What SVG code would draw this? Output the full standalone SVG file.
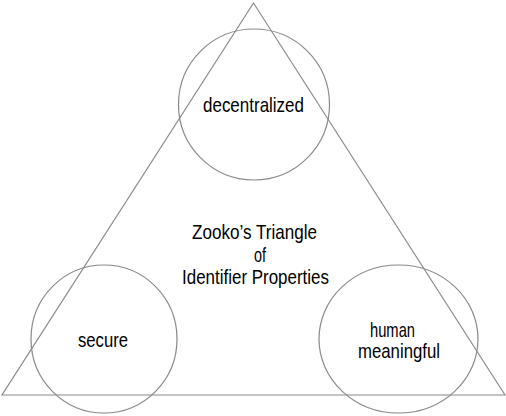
<svg xmlns="http://www.w3.org/2000/svg" width="506" height="416" viewBox="0 0 506 416">
<style>
.s{fill:none;stroke:#8a8a8a;stroke-width:1.2}
.t{font-family:"Liberation Sans",Arial,sans-serif;font-size:21px;fill:#000}
</style>
<rect width="506" height="416" fill="#fff"/>
<g id="triangle">
<polygon class="s" points="253.5,3 2,395 505,395"/>
</g>
<g id="decentralized">
<circle class="s" cx="254" cy="104.5" r="75.5"/>
<text class="t" x="203" y="112" textLength="101" lengthAdjust="spacingAndGlyphs">decentralized</text>
</g>
<g id="secure">
<ellipse class="s" cx="104" cy="339" rx="73" ry="74"/>
<text class="t" x="78" y="347" textLength="50" lengthAdjust="spacingAndGlyphs">secure</text>
</g>
<g id="human-meaningful">
<ellipse class="s" cx="398.5" cy="339" rx="79.5" ry="74"/>
<text class="t" x="370" y="337" textLength="45" lengthAdjust="spacingAndGlyphs">human</text>
<text class="t" x="358" y="358" textLength="82" lengthAdjust="spacingAndGlyphs">meaningful</text>
</g>
<g id="title">
<text class="t" x="192" y="239" textLength="125" lengthAdjust="spacingAndGlyphs">Zooko’s Triangle</text>
<text class="t" x="254" y="262" textLength="12" lengthAdjust="spacingAndGlyphs">of</text>
<text class="t" x="182" y="284" textLength="147" lengthAdjust="spacingAndGlyphs">Identifier Properties</text>
</g>
<g id="connectors"></g>
</svg>
